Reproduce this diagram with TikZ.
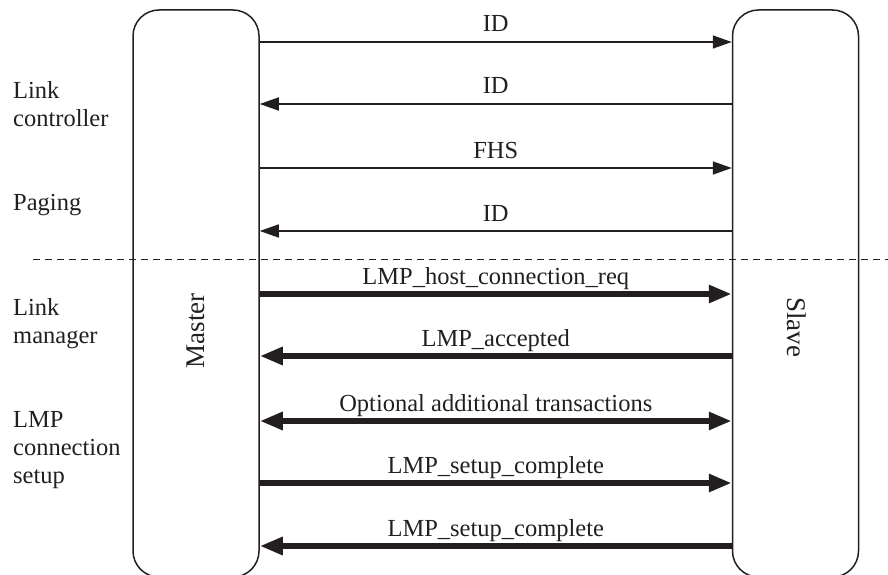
\documentclass[tikz,border=0pt]{standalone}
\usepackage{fontspec}
\setmainfont{Liberation Serif}
\usetikzlibrary{arrows.meta}
\definecolor{ink}{HTML}{231F20}
\begin{document}
\begin{tikzpicture}[x=1pt,y=-1pt,
  every node/.style={font=\fontsize{24.5}{28}\selectfont, text=ink},
  actor/.style={draw=ink, line width=1.5pt, rounded corners=26pt, minimum width=126pt, minimum height=567pt, inner sep=0pt},
  actorname/.style={font=\fontsize{27}{30}\selectfont},
  lbl/.style={anchor=base west, inner sep=0pt},
  msg/.style={anchor=base, inner sep=0pt, yshift=10pt},
  thinmsg/.style={draw=ink, line width=1.6pt, -{Triangle[length=19pt,width=13pt]}},
  thickmsg/.style={draw=ink, line width=6.3pt, -{Triangle[length=23pt,width=17pt]}},
  bothmsg/.style={draw=ink, line width=6.3pt, {Triangle[length=23pt,width=17pt]}-{Triangle[length=23pt,width=17pt]}},
  sep/.style={draw=ink, line width=1pt, dash pattern=on 7pt off 5pt}]
\useasboundingbox (0,0) rectangle (888,575);

% lifelines
\node[actor] (master) at (196,293.5) {};
\node[actor] (slave) at (795.5,293.5) {};
\node[actorname, rotate=90] (mlabel) at (196,331) {Master};
\node[actorname, rotate=-90] (slabel) at (797,327) {Slave};

% separator
\coordinate (dl) at (33,259);
\coordinate (dr) at (888,259);
\draw[sep] (dl) -- (dr);

% left labels
\node[lbl] (lc1) at (13,99) {Link};
\node[lbl] (lc2) at (13,127) {controller};
\node[lbl] (pg) at (13,210) {Paging};
\node[lbl] (lm1) at (13,315) {Link};
\node[lbl] (lm2) at (13,343) {manager};
\node[lbl] (ls1) at (13,427) {LMP};
\node[lbl] (ls2) at (13,455) {connection};
\node[lbl] (ls3) at (13,483) {setup};

% messages
\draw[thinmsg] (master.east |- 0,42) -- node[msg] {ID} (slave.west |- 0,42);
\draw[thinmsg] (slave.west |- 0,104) -- node[msg] {ID} (master.east |- 0,104);
\draw[thinmsg] (master.east |- 0,168) -- node[msg] {FHS} (slave.west |- 0,168);
\draw[thinmsg] (slave.west |- 0,231) -- node[msg] {ID} (master.east |- 0,231);
\draw[thickmsg] (master.east |- 0,294) -- node[msg] {LMP\_host\_connection\_req} (slave.west |- 0,294);
\draw[thickmsg] (slave.west |- 0,356) -- node[msg] {LMP\_accepted} (master.east |- 0,356);
\draw[bothmsg] (master.east |- 0,421) -- node[msg] {Optional additional transactions} (slave.west |- 0,421);
\draw[thickmsg] (master.east |- 0,483) -- node[msg] {LMP\_setup\_complete} (slave.west |- 0,483);
\draw[thickmsg] (slave.west |- 0,546) -- node[msg] {LMP\_setup\_complete} (master.east |- 0,546);
\end{tikzpicture}
\end{document}
